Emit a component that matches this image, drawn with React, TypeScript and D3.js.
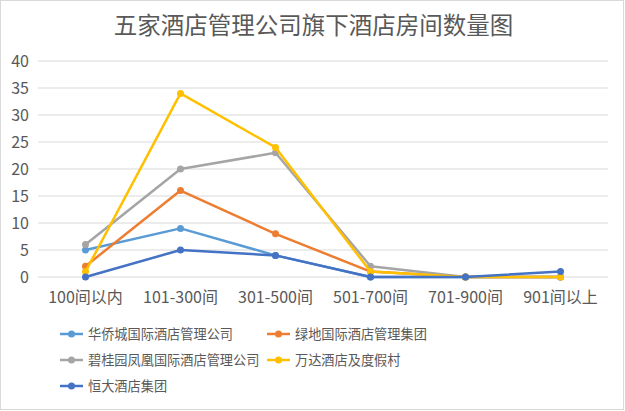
import { useRef, useEffect } from 'react';
import * as d3 from 'd3';

const WIDTH = 625;
const HEIGHT = 411;
const MARGIN = { top: 61, right: 17, bottom: 134, left: 38 };
const FONT = '"Noto Sans CJK SC", "Noto Sans", sans-serif';

const categories = ['100间以内', '101-300间', '301-500间', '501-700间', '701-900间', '901间以上'];
const seriesNames = ['华侨城国际酒店管理公司', '绿地国际酒店管理集团', '碧桂园凤凰国际酒店管理公司', '万达酒店及度假村', '恒大酒店集团'];
const seriesColors = ['#5B9BD5', '#ED7D31', '#A5A5A5', '#FFC000', '#4472C4'];
const huaqiaocheng = [5, 9, 4, 0, 0, 0];
const lvdi = [2, 16, 8, 1, 0, 0];
const biguiyuan = [6, 20, 23, 2, 0, 0];
const wanda = [1, 34, 24, 1, 0, 0];
const hengda = [0, 5, 4, 0, 0, 1];
const seriesValues = [huaqiaocheng, lvdi, biguiyuan, wanda, hengda];
const yTicks = [0, 5, 10, 15, 20, 25, 30, 35, 40];

const App = () => {
	const ref = useRef<SVGSVGElement>(null);

	useEffect(() => {
		const svg = d3.select(ref.current);
		svg.selectAll('*').remove();

		const innerW = WIDTH - MARGIN.left - MARGIN.right;
		const innerH = HEIGHT - MARGIN.top - MARGIN.bottom;

		svg.append('rect')
			.attr('x', 0.5).attr('y', 0.5)
			.attr('width', WIDTH - 2).attr('height', HEIGHT - 2)
			.attr('fill', '#fff').attr('stroke', '#D9D9D9');

		svg.append('text')
			.attr('x', WIDTH / 2 + 1).attr('y', 34)
			.attr('text-anchor', 'middle')
			.attr('font-family', FONT).attr('font-size', 23.5)
			.attr('fill', '#595959')
			.text('五家酒店管理公司旗下酒店房间数量图');

		const x = d3.scaleBand().domain(categories).range([0, innerW]);
		const y = d3.scaleLinear().domain([0, 40]).range([innerH, 0]);

		const g = svg.append('g').attr('transform', `translate(${MARGIN.left}, ${MARGIN.top})`);

		// gridlines
		g.selectAll('line.grid')
			.data(yTicks)
			.enter().append('line')
			.attr('x1', 0).attr('x2', innerW)
			.attr('y1', d => y(d)).attr('y2', d => y(d))
			.attr('stroke', '#D9D9D9').attr('stroke-width', 1);

		g.selectAll('text.ytick')
			.data(yTicks)
			.enter().append('text')
			.attr('x', -9).attr('y', d => y(d))
			.attr('dy', '0.35em')
			.attr('text-anchor', 'end')
			.attr('font-family', FONT).attr('font-size', 16)
			.attr('fill', '#595959')
			.text(d => d);

		g.selectAll('text.xtick')
			.data(categories)
			.enter().append('text')
			.attr('x', d => x(d)! + x.bandwidth() / 2)
			.attr('y', innerH + 26)
			.attr('text-anchor', 'middle')
			.attr('font-family', FONT).attr('font-size', 16)
			.attr('fill', '#595959')
			.text(d => d);

		const line = d3.line<number>()
			.x((_, i) => x(categories[i])! + x.bandwidth() / 2)
			.y(d => y(d));

		seriesValues.forEach((vals, si) => {
			g.append('path')
				.attr('fill', 'none')
				.attr('stroke', seriesColors[si])
				.attr('stroke-width', 2.5)
				.attr('stroke-linejoin', 'round')
				.attr('d', line(vals));
			g.selectAll(`circle.s${si}`)
				.data(vals)
				.enter().append('circle')
				.attr('cx', (_, i) => x(categories[i])! + x.bandwidth() / 2)
				.attr('cy', d => y(d))
				.attr('r', 3.5)
				.attr('fill', seriesColors[si]);
		});

		// legend
		const legendPos = [[60, 334], [267, 334], [60, 360], [267, 360], [60, 386]];
		seriesNames.forEach((name, i) => {
			const [lx, ly] = legendPos[i];
			const lg = svg.append('g').attr('transform', `translate(${lx}, ${ly})`);
			lg.append('line')
				.attr('x1', 0).attr('x2', 23)
				.attr('stroke', seriesColors[i]).attr('stroke-width', 2.5);
			lg.append('circle').attr('cx', 11.5).attr('r', 3.5).attr('fill', seriesColors[i]);
			lg.append('text')
				.attr('x', 28).attr('dy', '0.35em')
				.attr('font-family', FONT).attr('font-size', 13.2)
				.attr('fill', '#595959')
				.text(name);
		});
	});

	return (
		<div style={{ position: 'fixed', left: 0, top: 0 }}>
			<svg ref={ref} width={WIDTH} height={HEIGHT} />
		</div>
	);
};

export default App;
